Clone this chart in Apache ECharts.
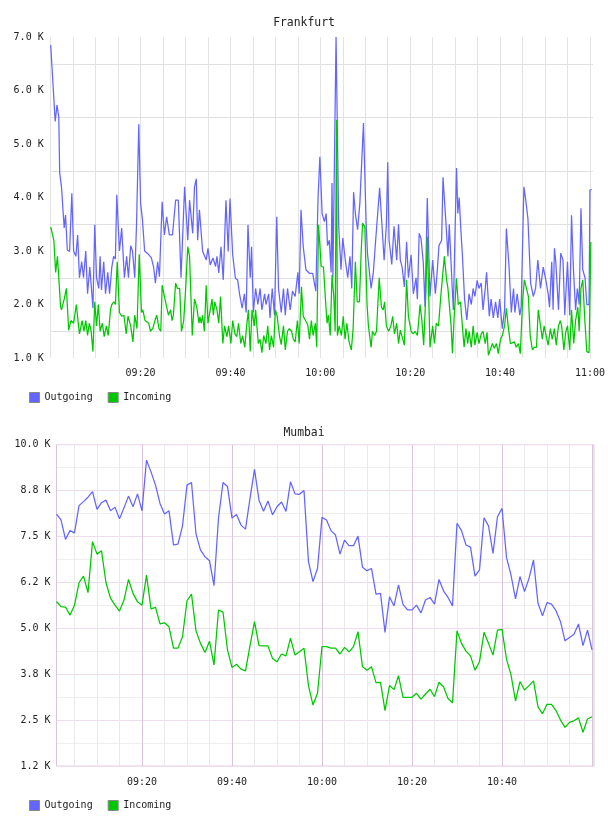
<!DOCTYPE html>
<html><head><meta charset="utf-8">
<script src="https://cdn.jsdelivr.net/npm/echarts@6/dist/echarts.min.js"></script>
<style>html,body{margin:0;padding:0;background:#fff}#c{width:608px;height:816px}</style>
</head><body><div id="c"></div><script>
// ---------- DATA ----------
// Frankfurt: [minutes after 09:00, value in K]
const frkOutgoing = [[0,6.85],[1,5.42],[1.4,5.73],[1.8,5.5],[2,4.46],[2.4,4.2],[2.7,4.17],[3,3.43],[3.3,3.67],[3.7,3.02],[4.2,2.99],[4.7,4.08],[5.1,3.0],[5.6,2.9],[6,3.3],[6.4,2.5],[6.9,2.8],[7.3,2.5],[7.8,3.0],[8.2,2.2],[8.7,2.7],[9.4,1.93],[9.8,3.49],[10.2,2.5],[10.7,2.3],[11,2.9],[11.3,2.27],[11.8,2.8],[12.2,2.2],[12.7,2.6],[13.1,2.2],[13.6,2.7],[14,2.9],[14.4,2.85],[14.7,4.05],[15.3,3.0],[15.8,3.43],[16.4,2.5],[16.9,2.9],[17.3,2.5],[17.8,3.1],[18.2,3.0],[18.7,2.5],[19.1,3.5],[19.6,5.37],[20,3.9],[20.4,3.6],[20.9,3.0],[21.6,2.95],[22.4,2.87],[22.9,2.7],[23.3,2.4],[23.8,2.8],[24.2,2.52],[24.8,3.92],[25.3,3.3],[25.8,3.64],[26.4,3.3],[27.1,3.3],[27.8,3.95],[28.4,3.95],[29,2.5],[29.8,4.2],[30.5,3.2],[30.9,3.95],[31.6,3.33],[32,4.2],[32.4,4.35],[32.7,3.2],
[33.1,3.77],[33.8,3.0],[34.6,2.83],[35,3.05],[35.5,2.74],[36.1,2.87],[36.7,2.71],[37,2.9],[37.4,2.59],[37.9,3.08],[38.4,2.46],[39,3.95],[39.5,2.99],[39.9,3.98],[40.5,2.93],[41.1,2.49],[41.6,2.46],[42,2.21],[42.6,1.93],[43.1,2.2],[43.5,1.85],[43.9,3.49],[44.4,2.5],[44.7,3.08],[45.1,1.85],[45.6,2.3],[46.1,2.0],[46.6,2.3],[47,1.9],[47.6,2.2],[47.9,2.0],[48.5,2.2],[48.8,1.75],[49.3,2.3],[49.8,1.8],[50.3,3.64],[50.7,2.3],[51.3,1.85],[51.8,2.3],[52.2,1.8],[52.7,2.3],[53.3,1.9],[53.8,2.25],[54.4,2.15],[55,2.6],[55.3,2.2],[55.7,3.77],[56.2,3.08],[56.8,2.65],[57.6,2.58],[58.3,2.58],[58.7,2.55],[59,2.25],[59.5,4.0],[59.9,4.76],[60.4,3.7],[60.9,3.55],[61.3,3.7],[61.6,3.1],[62,3.2],[62.4,2.6],[62.6,4.27],[62.8,2.5],[63.5,7.0],[64.1,3.45],[64.6,2.65],[65,3.24],[65.6,2.8],[66.1,2.5],[66.6,2.9],[67,2.3],[67.4,4.1],[67.8,3.7],[68.3,3.4],[68.8,3.9],[69.6,5.39],[70.2,3.5],[70.5,2.95],[71.3,2.3],[71.8,2.6],[72.4,3.3],[73.2,4.18],[73.7,3.5],[74.2,2.83],[74.7,3.5],[75,4.66],[75.3,3.2],[75.9,2.75],[76.4,3.46],[77,2.83],[77.4,3.5],
[77.8,2.83],[78.2,2.7],[78.7,2.33],[79.2,3.17],[79.6,2.5],[80.2,2.93],[80.7,2.2],[81.3,2.5],[81.6,2.1],[82,3.33],[82.4,3.24],[82.9,2.8],[83.3,1.96],[83.8,3.99],[84.4,2.15],[85,2.83],[85.6,2.2],[86,2.6],[86.4,3.1],[87,3.2],[87.3,4.38],[87.9,3.6],[88.4,2.9],[88.7,3.5],[89.3,2.4],[89.6,1.9],[90.3,4.55],[90.6,3.7],[90.9,4.0],[91.3,3.35],[91.6,2.95],[92.1,2.1],[92.6,1.71],[93.1,2.2],[93.6,2.0],[94,2.3],[94.4,2.15],[94.9,2.45],[95.3,2.3],[95.8,2.4],[96.2,1.9],[96.7,2.3],[97,2.6],[97.6,1.78],[98,2.1],[98.5,1.75],[99,2.05],[99.5,1.75],[99.9,2.1],[100.5,1.55],[101,1.9],[101.4,3.42],[102,2.7],[102.5,1.85],[103,2.3],[103.3,1.85],[103.8,2.2],[104.4,1.8],[104.7,1.96],[105.3,4.2],[105.7,3.96],[106.2,3.6],[106.8,2.4],[107.4,2.15],[107.9,2.3],[108.4,2.83],[109,2.3],[109.6,2.7],[110.2,2.45],[110.7,2.2],[111,1.95],[111.5,2.8],[111.8,1.9],[112.1,3.05],[112.4,2.8],[113,1.9],[113.5,2.96],[114,2.83],[114.4,1.8],[115,2.8],[115.5,1.8],[115.9,3.67],[116.3,2.7],[116.8,1.9],[117.2,2.3],[117.6,2.0],[118,3.8],[118.4,2.65],[118.9,2.5],[119.3,2.0],[119.8,2.0],[120,4.14],[120.4,4.15]];

const frkIncoming = [[0,3.45],[0.7,3.2],[1.1,2.6],[1.5,2.9],[2.2,1.96],[2.4,1.9],[3,2.1],[3.5,2.3],[4,1.52],[4.5,1.7],[5.1,1.65],[5.7,2.0],[6.2,1.6],[6.4,1.45],[7,1.7],[7.4,1.5],[7.8,1.7],[8.2,1.42],[8.6,1.65],[9,1.5],[9.4,1.12],[9.8,2.05],[10.2,1.6],[10.6,2.0],[11,1.5],[11.5,1.65],[11.9,1.4],[12.4,1.6],[12.8,1.42],[13.3,1.9],[13.6,2.0],[14.1,2.05],[14.4,2.0],[14.8,2.8],[15.3,1.85],[15.8,1.78],[16.3,1.8],[16.8,1.45],[17.2,1.78],[17.8,1.6],[18.3,1.3],[18.7,1.8],[19.2,1.55],[19.7,2.94],[20.2,1.85],[20.5,1.9],[21,1.7],[21.4,1.7],[21.8,1.65],[22.2,1.5],[22.7,1.55],[23.2,1.7],[23.6,1.8],[24.1,1.55],[24.5,1.5],[24.8,2.36],[25.3,2.15],[25.7,2.15],[26.2,1.8],[26.7,1.9],[27,1.7],[27.3,1.8],[27.8,2.4],[28.2,2.3],[28.7,2.3],[29.1,1.5],[29.6,1.7],[30,2.25],[30.5,3.08],[30.9,2.9],[31.5,1.42],[32,2.1],[32.5,1.95],[33,1.65],
[33.2,1.77],[33.5,1.65],[33.8,1.8],[34.2,1.5],[34.6,2.36],[35,1.65],[35.5,1.9],[35.9,2.1],[36.2,1.8],[36.5,2.05],[37,1.9],[37.4,1.65],[37.8,2.15],[38.3,1.27],[38.7,1.6],[39.2,1.4],[39.6,1.6],[40.1,1.27],[40.5,1.7],[41,1.45],[41.4,1.4],[41.8,1.65],[42.3,1.27],[42.7,1.42],[43.2,1.2],[43.6,1.6],[44,1.9],[44.4,1.12],[44.8,1.9],[45.3,1.6],[45.6,1.9],[46.2,1.27],[46.6,1.35],[47,1.1],[47.4,1.42],[47.9,1.27],[48.3,1.6],[48.7,1.15],[49.1,1.42],[49.6,1.2],[50,1.9],[50.4,1.78],[50.9,1.42],[51.3,1.25],[51.8,1.6],[52.2,1.15],[52.7,1.5],[53.1,1.55],[53.6,1.5],[54,1.35],[54.4,1.3],[54.9,1.7],[55.3,1.27],[55.8,2.33],[56.2,1.78],[56.7,1.7],[57.2,1.62],[57.6,1.35],[58,1.7],[58.4,1.42],[58.9,1.65],[59.2,1.2],[59.6,3.49],[60.2,2.71],[60.7,2.7],[61.1,2.15],[61.5,1.65],[61.8,1.8],[62.2,1.42],[62.6,2.55],[63,2.15],[63.3,1.5],[63.6,5.45],[63.8,1.42],[64.2,1.6],[64.7,1.42],[65.1,1.78],[65.5,1.35],[65.9,1.65],[66.4,1.3],[66.9,1.15],[67.3,1.55],[67.8,2.8],[68.2,2.05],[68.7,2.05],[69.1,3.0],[69.4,3.52],[69.9,3.45],[70.4,2.0],[70.7,1.6],[71.3,1.2],[71.6,1.5],[72.1,1.42],[72.5,1.5],[73.1,2.5],[73.6,1.95],[74,1.9],[74.3,2.05],[74.7,1.6],[75.2,1.5],[75.7,1.6],[76.1,1.78],[76.5,1.45],[77,1.65],[77.4,1.27],
[77.8,1.52],[78.2,1.5],[78.7,1.24],[79.2,2.46],[79.6,1.78],[80.2,1.5],[80.7,1.45],[81.1,1.5],[81.6,1.42],[82.2,2.0],[82.6,1.7],[83,1.24],[83.5,2.25],[83.8,3.27],[84.4,1.2],[85,1.6],[85.4,1.27],[85.8,1.65],[86.3,1.6],[86.8,2.15],[87.2,2.15],[87.6,2.9],[88.1,2.46],[88.4,2.3],[88.7,2.3],[89.1,1.6],[89.4,1.09],[89.8,1.8],[90.3,2.49],[90.7,2.0],[91.2,2.05],[91.6,1.6],[92,1.2],[92.4,1.55],[92.8,1.27],[93.1,1.5],[93.6,1.2],[94,1.6],[94.4,1.24],[94.9,1.48],[95.3,1.27],[95.8,1.45],[96.2,1.5],[96.7,1.27],[97.1,1.48],[97.4,1.05],[97.8,1.15],[98.3,1.27],[98.7,1.18],[99.2,1.27],[99.6,1.08],[100.1,1.35],[100.5,1.42],[101,1.6],[101.4,1.93],[101.8,1.6],[102.3,1.27],[102.7,1.24],[103.2,1.3],[103.6,1.2],[104.1,1.27],[104.5,1.08],[105,2.05],[105.4,2.46],[105.8,2.46],[106.3,2.15],[106.7,1.42],[107.2,1.15],[107.6,1.2],[108.1,1.2],[108.5,1.9],[109,1.6],[109.4,1.35],[109.8,1.6],[110.3,1.4],[110.7,1.24],[111.2,1.55],[111.6,1.35],[112.1,1.55],[112.5,1.24],[113,1.6],[113.4,1.7],[113.7,1.6],[114.2,1.15],[114.6,1.48],[115,1.6],[115.5,1.15],[115.9,1.9],[116.4,1.27],[116.8,1.7],[117.3,1.95],[117.6,1.5],[118,2.3],[118.4,2.46],[118.9,1.65],[119.3,1.12],[119.8,1.1],[120.2,3.17]];

// Mumbai: one value per minute, starting 09:01 (values in K)
const mumStartMinute = 1;
const mumOutgoing = [8.11,7.95,7.42,7.66,7.6,8.34,8.45,8.57,8.72,8.24, 8.42,8.49,8.2,8.3,7.98,8.28,8.6,8.31,8.66,8.2, 9.58,9.26,8.9,8.4,8.11,8.2,7.27,7.29,7.79,8.9, 8.97,7.57,7.13,6.95,6.84,6.16,8.0,8.97,8.86,8.0, 8.1,7.81,7.7,8.54,9.33,8.49,8.19,8.47,8.09,8.31, 8.44,8.18,8.99,8.66,8.65,8.75,6.81,6.27,6.63,8.02, 7.95,7.66,7.54,7.02,7.4,7.25,7.25,7.51,6.66,6.57, 6.63,5.93,5.95,4.89,5.86,5.61,6.18,5.65,5.5,5.5, 5.63,5.42,5.77,5.84,5.66,6.33,6.02,5.84,5.61,7.86, 7.66,7.27,7.21,6.42,6.59,8.01,7.79,7.04,8.04,8.27, 6.93,6.45,5.8,6.41,6.0,6.36,6.86,5.68,5.34,5.7, 5.66,5.48,5.18,4.66,4.75,4.84,5.12,4.53,4.95,4.41];
const mumIncoming = [5.73,5.59,5.58,5.36,5.63,6.24,6.42,5.97,7.36,7.02, 7.11,6.24,5.82,5.63,5.47,5.77,6.33,5.95,5.72,5.63, 6.45,5.53,5.57,5.12,5.15,5.04,4.46,4.46,4.77,5.75, 5.93,4.93,4.59,4.34,4.65,4.0,5.5,5.44,4.41,3.93, 4.02,3.89,3.84,4.53,5.18,4.53,4.52,4.52,4.18,4.09, 4.3,4.25,4.73,4.27,4.36,4.46,3.43,2.91,3.23,4.5, 4.5,4.46,4.46,4.3,4.48,4.36,4.5,4.91,3.95,3.86, 3.95,3.52,3.53,2.76,3.44,3.33,3.71,3.12,3.12,3.12, 3.23,3.07,3.21,3.34,3.14,3.53,3.41,3.09,2.97,4.93, 4.59,4.38,4.25,3.86,4.09,4.89,4.59,4.27,4.95,4.97, 4.16,3.73,3.02,3.55,3.32,3.44,3.57,2.86,2.67,2.93, 2.93,2.76,2.5,2.3,2.44,2.48,2.56,2.17,2.53,2.59];

// Tick labels
const frkXTicks = [20,40,60,80,100,120];
const frkXLabels = ['09:20','09:40','10:00','10:20','10:40','11:00'];
const mumXTicks = [20,40,60,80,100];
const mumXLabels = ['09:20','09:40','10:00','10:20','10:40'];
const frkYTicks = [1,2,3,4,5,6,7];
const frkYLabels = ['1.0 K','2.0 K','3.0 K','4.0 K','5.0 K','6.0 K','7.0 K'];
const mumYTicks = [1.25,2.5,3.75,5,6.25,7.5,8.75,10];
const mumYLabels = ['1.2 K','2.5 K','3.8 K','5.0 K','6.2 K','7.5 K','8.8 K','10.0 K'];
const seriesNames = ['Outgoing','Incoming'];
const titles = ['Frankfurt','Mumbai'];

// ---------- STYLE ----------
const FONT = 'DejaVu Sans Mono';
const BLUE = '#6464ff', GREEN = '#00c800';
const LW = 1.25;
function lookup(ticks, labels) {
  return function (v) {
    for (let i = 0; i < ticks.length; i++) if (Math.abs(ticks[i] - v) < 1e-6) return labels[i];
    return '';
  };
}
const labelStyle = {fontFamily: FONT, fontSize: 10, color: '#222'};
const mumPairs = arr => arr.map((v, i) => [mumStartMinute + i, v]);

const chart = echarts.init(document.getElementById('c'), null, {renderer: 'canvas'});
const legendBase = {
  left: 24, icon: 'rect', itemWidth: 10, itemHeight: 10, itemGap: 15,
  itemStyle: {borderColor: '#888', borderWidth: 1},
  textStyle: {fontFamily: FONT, fontSize: 10, color: '#222'},
  data: seriesNames, selectedMode: false
};
chart.setOption({
  animation: false,
  backgroundColor: '#fff',
  title: [
    {text: titles[0], left: 'center', top: 13, textStyle: {fontFamily: FONT, fontSize: 11.4, fontWeight: 'normal', color: '#222'}},
    {text: titles[1], left: 'center', top: 423, textStyle: {fontFamily: FONT, fontSize: 11.4, fontWeight: 'normal', color: '#222'}}
  ],
  legend: [
    Object.assign({top: 387}, legendBase),
    Object.assign({top: 795}, legendBase)
  ],
  grid: [
    {left: 50.7, top: 37, width: 543.15, height: 321, show: false},
    {left: 56.5, top: 444.7, width: 537.3, height: 321.3, show: true, borderColor: '#e6cfe6', borderWidth: 1, backgroundColor: 'transparent'}
  ],
  xAxis: [
    {gridIndex: 0, type: 'value', min: 0, max: 120.7, interval: 5,
     axisLine: {show: false}, axisTick: {show: false},
     splitLine: {show: true, showMaxLine: false, lineStyle: {color: '#e3e3e3', width: 1}},
     axisLabel: Object.assign({margin: 10, formatter: lookup(frkXTicks, frkXLabels)}, labelStyle)},
    {gridIndex: 1, type: 'value', min: 1, max: 120.4, splitNumber: 24, position: 'bottom',
     axisLine: {show: false}, axisTick: {show: false}, axisLabel: {show: false},
     splitLine: {show: true, lineStyle: {color: '#e9e9e9', width: 1}}},
    {gridIndex: 1, type: 'value', min: 1, max: 120.4, splitNumber: 6, position: 'bottom',
     axisLine: {show: false}, axisTick: {show: false},
     splitLine: {show: true, showMaxLine: false, lineStyle: {color: '#dcc3dc', width: 1}},
     axisLabel: Object.assign({margin: 11, showMinLabel: false, showMaxLabel: false, formatter: lookup(mumXTicks, mumXLabels)}, labelStyle)}
  ],
  yAxis: [
    {gridIndex: 0, type: 'value', min: 1, max: 7, interval: 0.5,
     axisLine: {show: false}, axisTick: {show: false},
     splitLine: {show: true, lineStyle: {color: ['rgba(0,0,0,0)', '#e0e0e0'], width: 1}},
     axisLabel: Object.assign({margin: 7, formatter: lookup(frkYTicks, frkYLabels)}, labelStyle)},
    {gridIndex: 1, type: 'value', min: 1.25, max: 10, interval: 0.625, position: 'left',
     axisLine: {show: false}, axisTick: {show: false}, axisLabel: {show: false},
     splitLine: {show: true, lineStyle: {color: '#eeeeee', width: 1}}},
    {gridIndex: 1, type: 'value', min: 1.25, max: 10, interval: 1.25, position: 'left',
     axisLine: {show: false}, axisTick: {show: false},
     splitLine: {show: true, lineStyle: {color: '#efdcef', width: 1}},
     axisLabel: Object.assign({margin: 6, formatter: lookup(mumYTicks, mumYLabels)}, labelStyle)}
  ],
  series: [
    {name: seriesNames[0], type: 'line', xAxisIndex: 0, yAxisIndex: 0, data: frkOutgoing, showSymbol: false, symbol: 'none', color: BLUE, lineStyle: {width: LW, color: BLUE}, clip: true},
    {name: seriesNames[1], type: 'line', xAxisIndex: 0, yAxisIndex: 0, data: frkIncoming, showSymbol: false, symbol: 'none', color: GREEN, lineStyle: {width: LW, color: GREEN}, clip: true},
    {name: seriesNames[0], type: 'line', xAxisIndex: 2, yAxisIndex: 2, data: mumPairs(mumOutgoing), showSymbol: false, symbol: 'none', color: BLUE, lineStyle: {width: LW, color: BLUE}, clip: true},
    {name: seriesNames[1], type: 'line', xAxisIndex: 2, yAxisIndex: 2, data: mumPairs(mumIncoming), showSymbol: false, symbol: 'none', color: GREEN, lineStyle: {width: LW, color: GREEN}, clip: true}
  ]
});
</script></body></html>
